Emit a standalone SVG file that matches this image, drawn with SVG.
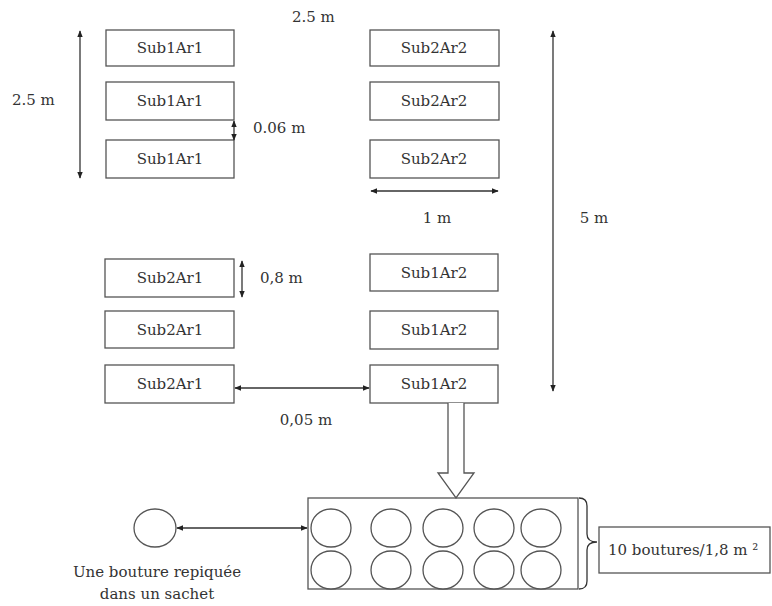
<svg xmlns="http://www.w3.org/2000/svg" width="772" height="606" viewBox="0 0 772 606">
<style>
.b{fill:#fff;stroke:#555;stroke-width:1.3}
.t{font-family:'DejaVu Serif',serif;font-size:15px;fill:#333}
.c{text-anchor:middle}
.l{stroke:#333;stroke-width:1.3;fill:none}
</style>
<defs>
<marker id="a" viewBox="0 0 10 10" refX="9" refY="5" markerWidth="7" markerHeight="7" orient="auto-start-reverse" markerUnits="userSpaceOnUse"><path d="M0,1 L10,5 L0,9 z" fill="#222"/></marker>
</defs>
<rect width="772" height="606" fill="#fff"/>
<g id="n1"><rect class="b" x="106" y="30" width="128" height="36"/><text class="t c" x="170" y="53">Sub1Ar1</text></g>
<g id="n2"><rect class="b" x="106" y="82" width="128" height="38"/><text class="t c" x="170" y="106">Sub1Ar1</text></g>
<g id="n3"><rect class="b" x="106" y="140" width="128" height="38"/><text class="t c" x="170" y="164">Sub1Ar1</text></g>
<g id="n4"><rect class="b" x="370" y="30" width="129" height="36"/><text class="t c" x="434" y="53">Sub2Ar2</text></g>
<g id="n5"><rect class="b" x="370" y="82" width="129" height="38"/><text class="t c" x="434" y="106">Sub2Ar2</text></g>
<g id="n6"><rect class="b" x="370" y="140" width="129" height="38"/><text class="t c" x="434" y="164">Sub2Ar2</text></g>
<g id="n7"><rect class="b" x="105" y="259" width="129" height="38"/><text class="t c" x="170" y="283">Sub2Ar1</text></g>
<g id="n8"><rect class="b" x="105" y="311" width="129" height="37"/><text class="t c" x="170" y="335">Sub2Ar1</text></g>
<g id="n9"><rect class="b" x="105" y="365" width="129" height="38"/><text class="t c" x="170" y="389">Sub2Ar1</text></g>
<g id="n10"><rect class="b" x="370" y="254" width="128" height="37"/><text class="t c" x="434" y="278">Sub1Ar2</text></g>
<g id="n11"><rect class="b" x="370" y="311" width="128" height="38"/><text class="t c" x="434" y="335">Sub1Ar2</text></g>
<g id="n12"><rect class="b" x="370" y="365" width="128" height="38"/><text class="t c" x="434" y="389">Sub1Ar2</text></g>
<g id="tray">
<rect class="b" x="308" y="498" width="270" height="91"/>
<g class="b" fill="none">
<ellipse cx="331" cy="528" rx="20" ry="19"/><ellipse cx="391" cy="528" rx="20" ry="19"/><ellipse cx="443" cy="528" rx="20" ry="19"/><ellipse cx="494" cy="528" rx="20" ry="19"/><ellipse cx="541" cy="528" rx="20" ry="19"/>
<ellipse cx="331" cy="570" rx="20" ry="19"/><ellipse cx="391" cy="570" rx="20" ry="19"/><ellipse cx="443" cy="570" rx="20" ry="19"/><ellipse cx="494" cy="570" rx="20" ry="19"/><ellipse cx="541" cy="570" rx="20" ry="19"/>
</g>
</g>
<g id="single"><ellipse class="b" cx="155" cy="528" rx="21" ry="19"/>
<text class="t c" x="157" y="577">Une bouture repiquée</text>
<text class="t c" x="157" y="599">dans un sachet</text></g>
<g id="label"><rect class="b" x="599" y="527" width="171" height="46"/><text class="t" x="608" y="555">10 boutures/1,8 m ²</text></g>
<g id="connectors">
<line class="l" x1="80" y1="31" x2="80" y2="178" marker-start="url(#a)" marker-end="url(#a)"/>
<line class="l" x1="234" y1="121" x2="234" y2="140" marker-start="url(#a)" marker-end="url(#a)"/>
<line class="l" x1="371" y1="191" x2="498" y2="191" marker-start="url(#a)" marker-end="url(#a)"/>
<line class="l" x1="553" y1="31" x2="553" y2="391" marker-start="url(#a)" marker-end="url(#a)"/>
<line class="l" x1="242" y1="261" x2="242" y2="297" marker-start="url(#a)" marker-end="url(#a)"/>
<line class="l" x1="235" y1="388" x2="369" y2="388" marker-start="url(#a)" marker-end="url(#a)"/>
<line class="l" x1="177" y1="528" x2="307" y2="528" marker-start="url(#a)" marker-end="url(#a)"/>
<path class="b" d="M448,403 L448,473 L438,473 L456,498 L474,473 L464,473 L464,403"/>
<path class="l" d="M579,498 Q587,498 587,506 L587,534 Q587,542 597,542 Q587,542 587,550 L587,581 Q587,589 579,589" stroke="#555"/>
</g>
<g id="dims">
<text class="t" x="292" y="22">2.5 m</text>
<text class="t" x="12" y="105">2.5 m</text>
<text class="t" x="253" y="133">0.06 m</text>
<text class="t c" x="437" y="223">1 m</text>
<text class="t c" x="594" y="223">5 m</text>
<text class="t" x="260" y="283">0,8 m</text>
<text class="t c" x="306" y="425">0,05 m</text>
</g>
</svg>
